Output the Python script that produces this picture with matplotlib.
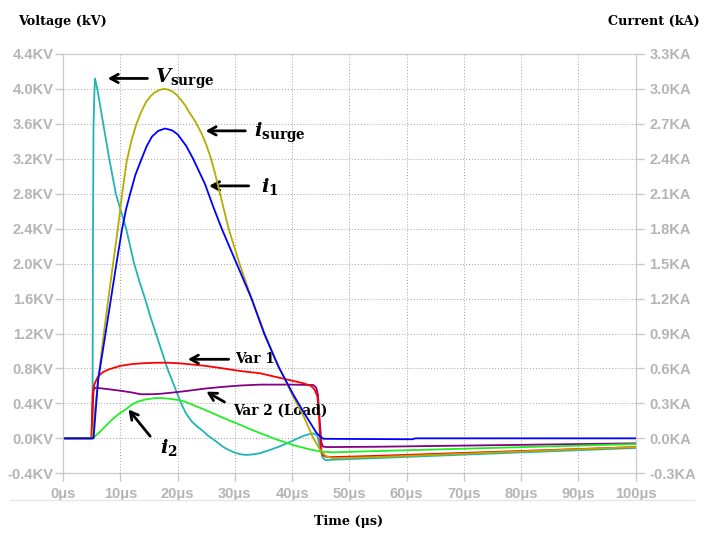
import matplotlib
matplotlib.use('Agg')
import matplotlib.pyplot as plt
from matplotlib.lines import Line2D
import numpy as np

# time in us, voltages in kV, currents in kA
t_vsurge = [0, 5.1, 5.15, 5.2, 5.3, 5.45, 5.55, 5.96, 7.0, 8.05, 9.2, 10.1, 11.0, 11.7, 12.4,
            13.3, 14.3, 15.2, 16.2, 17.2, 18.2, 19.4, 20.6, 21.5, 22.5, 23.5, 24.5, 25.3, 26.0,
            27.0, 28.0, 29.0, 30.0, 31.0, 32.0, 33.0, 34.4, 36.0, 37.5, 39.0, 40.0, 41.3, 42.5,
            43.7, 44.4, 44.9, 45.3, 45.8, 47.0, 55.0, 100.0]
v_surge = [0, 0, 0.8, 2.2, 3.57, 3.95, 4.12, 4.0, 3.6, 3.2, 2.8, 2.6, 2.4, 2.2, 2.0,
           1.8, 1.6, 1.4, 1.2, 1.0, 0.8, 0.6, 0.4, 0.28, 0.19, 0.13, 0.08, 0.03, 0.0,
           -0.05, -0.1, -0.135, -0.165, -0.183, -0.19, -0.185, -0.17, -0.135, -0.1, -0.06, -0.03, 0.01, 0.04,
           0.057, 0.03, -0.12, -0.22, -0.25, -0.245, -0.225, -0.11]

t_var1 = [0, 4.9, 5.0, 5.15, 5.4, 5.8, 6.1, 7.0, 8.0, 10.0, 12.0, 14.0, 16.0, 17.8, 19.5, 21.0,
          24.8, 28.0, 31.0, 34.4, 38.0, 42.0, 43.3, 43.9, 44.4, 44.7, 44.9, 45.1, 45.4, 45.8,
          47.0, 55.0, 100.0]
v_var1 = [0, 0, 0.15, 0.5, 0.61, 0.67, 0.71, 0.76, 0.79, 0.83, 0.85, 0.86, 0.865, 0.866, 0.862, 0.855,
          0.83, 0.8, 0.77, 0.745, 0.69, 0.63, 0.6, 0.56, 0.48, 0.25, -0.02, -0.14, -0.195, -0.21,
          -0.215, -0.2, -0.1]

t_var2 = [0, 5.0, 5.15, 5.3, 5.6, 7.6, 10.0, 12.0, 13.5, 15.5, 17.0, 20.0, 22.5, 24.8, 28.0,
          31.0, 34.4, 40.0, 43.7, 44.2, 44.5, 44.8, 45.1, 45.4, 46.0, 55.0, 100.0]
v_var2 = [0, 0, 0.35, 0.55, 0.58, 0.565, 0.545, 0.525, 0.505, 0.505, 0.51, 0.53, 0.55, 0.57, 0.59,
          0.605, 0.615, 0.615, 0.61, 0.58, 0.5, 0.2, -0.05, -0.095, -0.1, -0.096, -0.057]

t_isurge = [0, 5.1, 5.5, 6.1, 7.1, 8.3, 9.55, 10.3, 11.1, 12.0, 12.8, 13.6, 14.5, 15.3, 16.0,
            16.8, 17.5, 18.3, 19.0, 19.8, 20.5, 21.3, 22.0, 22.7, 23.3, 24.2, 25.0, 25.7, 26.5,
            27.3, 28.9, 30.8, 32.9, 35.2, 36.7, 38.2, 40.0, 42.0, 43.7, 44.9, 45.8, 47.0, 55.0, 100.0]
i_surge = [0, 0, 0.22, 0.50, 0.90, 1.35, 1.80, 2.10, 2.38, 2.57, 2.70, 2.80, 2.89, 2.94, 2.97,
           2.99, 3.00, 2.995, 2.98, 2.95, 2.91, 2.86, 2.80, 2.75, 2.70, 2.615, 2.52, 2.42, 2.28,
           2.12, 1.80, 1.50, 1.20, 0.90, 0.72, 0.56, 0.375, 0.19, 0.0, -0.10, -0.15, -0.17, -0.16, -0.075]

t_i1 = [0, 5.3, 5.7, 6.1, 7.4, 8.35, 9.3, 10.3, 11.0, 11.7, 12.6, 13.7, 14.6, 15.5, 16.6, 17.8,
        19.0, 20.0, 21.5, 22.7, 24.8, 26.2, 27.7, 30.3, 32.9, 35.1, 37.6, 40.2, 42.0, 43.2,
        44.2, 44.9, 45.5, 61.0, 61.5, 100.0]
i_1 = [0, 0, 0.25, 0.50, 0.90, 1.20, 1.50, 1.80, 1.97, 2.10, 2.26, 2.40, 2.51, 2.59, 2.64, 2.66,
       2.645, 2.61, 2.51, 2.40, 2.18, 1.99, 1.80, 1.50, 1.20, 0.90, 0.615, 0.375, 0.225, 0.13,
       0.05, 0.015, -0.004, -0.008, 0.0, 0.0]

t_i2 = [0, 4.9, 5.5, 6.3, 7.3, 8.2, 9.0, 10.0, 11.1, 12.0, 13.0, 14.5, 16.0, 17.2, 18.5, 20.0,
        21.3, 23.0, 25.0, 27.3, 29.7, 31.2, 32.6, 34.4, 37.0, 40.2, 43.0, 44.9, 47.0, 55.0, 100.0]
i_2 = [0, 0, 0.015, 0.05, 0.10, 0.145, 0.18, 0.22, 0.255, 0.29, 0.315, 0.335, 0.345, 0.346, 0.34, 0.33,
       0.315, 0.28, 0.24, 0.19, 0.14, 0.11, 0.08, 0.045, -0.005, -0.058, -0.094, -0.113, -0.12, -0.109, -0.049]

x_ticks = np.arange(0, 101, 10)
v_ticks = np.round(np.arange(-0.4, 4.41, 0.4), 1)
i_ticks = np.round(np.arange(-0.3, 3.31, 0.3), 1)

gray = '#b4b4b4'
fig = plt.figure(figsize=(7.05, 5.34), dpi=100)
ax = fig.add_axes([0.0896, 0.1137, 0.8121, 0.7852])
ax2 = ax.twinx()

ax.plot(t_vsurge, v_surge, color='#22b4b4', lw=1.3)
ax.plot(t_var2, v_var2, color='#820082', lw=1.3)
ax.plot(t_var1, v_var1, color='#ff0000', lw=1.3)
ax2.plot(t_i2, i_2, color='#22ee22', lw=1.3)
ax2.plot(t_isurge, i_surge, color='#b4ac00', lw=1.3)
ax2.plot(t_i1, i_1, color='#0000ff', lw=1.3)

ax.set_xlim(0, 100)
ax.set_ylim(-0.4, 4.4)
ax2.set_ylim(-0.3, 3.3)
ax.set_xticks(x_ticks)
ax.set_xticklabels([f'{x}μs' for x in x_ticks])
ax.set_yticks(v_ticks)
ax.set_yticklabels([f'{v:.1f}KV' for v in v_ticks])
ax2.set_yticks(i_ticks)
ax2.set_yticklabels([f'{v:.1f}KA' for v in i_ticks])

ax.grid(True, color='#a0a0a0', linestyle=(0, (1, 2)), lw=0.7)
for a in (ax, ax2):
    for s in a.spines.values():
        s.set_color('#c8c8c8')
    a.tick_params(colors='#c8c8c8', length=6, width=1, labelcolor=gray)
    for lab in a.get_xticklabels() + a.get_yticklabels():
        lab.set_fontfamily('Liberation Sans')
        lab.set_fontweight('bold')
        lab.set_fontsize(10.5)
ax.tick_params(axis='y', pad=1)
ax.tick_params(axis='x', pad=4)
ax2.tick_params(axis='y', pad=4)

fig.add_artist(Line2D([0.014, 0.985], [0.064, 0.064], color='#e6e6e6', lw=1))

lab_font = dict(family='DejaVu Serif', weight='bold', size=9.2)
fig.text(0.025, 0.96, 'Voltage (kV)', ha='left', va='center', **lab_font)
fig.text(0.993, 0.96, 'Current (kA)', ha='right', va='center', **lab_font)
fig.text(0.495, 0.024, 'Time (μs)', ha='center', va='center', **lab_font)

plt.rcParams['mathtext.fontset'] = 'dejavuserif'
arr = dict(arrowstyle='->, head_length=0.55, head_width=0.3', lw=2, color='black')
ann_font = dict(family='DejaVu Serif', weight='bold', size=9.8, color='black')

ax.annotate('', xy=(7.3, 4.12), xytext=(15.2, 4.12), arrowprops=arr)
ax.text(16.0, 4.12, r'$\mathbfit{V}_{\mathbf{surge}}$', ha='left', va='center', fontsize=14)
ax.annotate('', xy=(24.4, 3.52), xytext=(32.3, 3.52), arrowprops=arr)
ax.text(33.3, 3.5, r'$\mathbfit{i}_{\mathbf{surge}}$', ha='left', va='center', fontsize=14)
ax.annotate('', xy=(25.0, 2.89), xytext=(32.9, 2.89), arrowprops=arr)
ax.text(34.6, 2.88, r'$\mathbfit{i}_{\mathbf{1}}$', ha='left', va='center', fontsize=14)
ax.annotate('', xy=(21.3, 0.905), xytext=(29.4, 0.905), arrowprops=arr)
ax.text(30.0, 0.905, 'Var 1', ha='left', va='center', **ann_font)
ax.annotate('', xy=(24.6, 0.55), xytext=(28.6, 0.4), arrowprops=arr)
ax.text(29.6, 0.32, 'Var 2 (Load)', ha='left', va='center', **ann_font)
ax.annotate('', xy=(11.1, 0.355), xytext=(15.5, 0.0), arrowprops=arr)
ax.text(16.9, -0.11, r'$\mathbfit{i}_{\mathbf{2}}$', ha='left', va='center', fontsize=14)

fig.savefig('out.png', dpi=100)
plt.close(fig)
